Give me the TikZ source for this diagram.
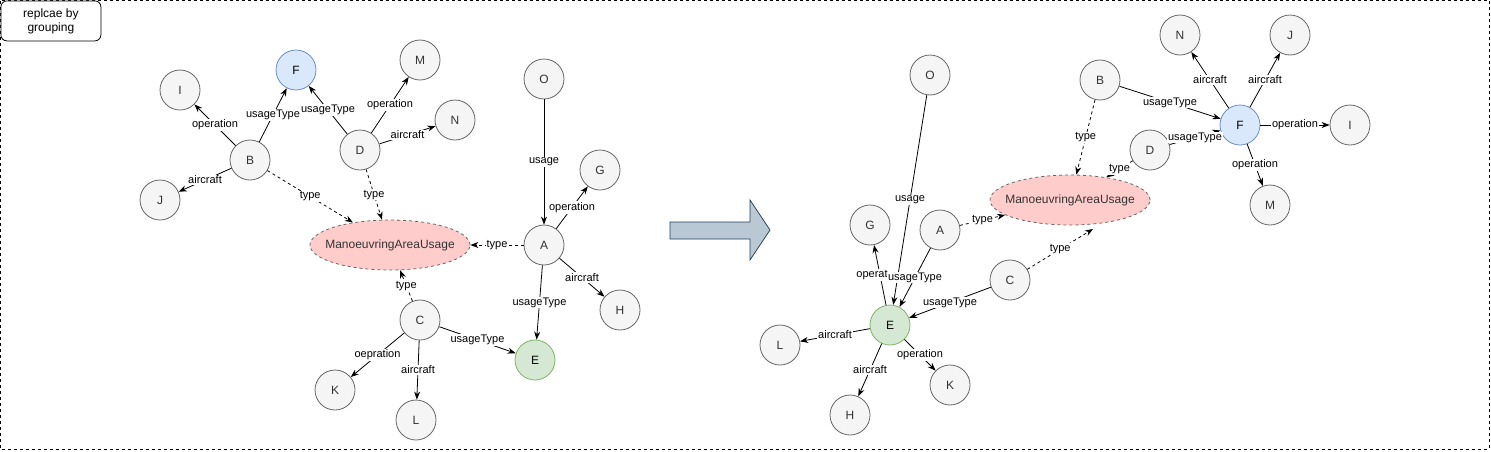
\documentclass[tikz,border=0pt]{standalone}
\usepackage{fontspec}
\setmainfont{Liberation Sans}
\usepackage{tikz}
\usepackage{xcolor}
\usetikzlibrary{shapes.geometric, arrows.meta, positioning, calc}
\definecolor{entfill}{HTML}{F5F5F5}
\definecolor{entline}{HTML}{666666}
\definecolor{enttext}{HTML}{333333}
\definecolor{bluefill}{HTML}{DAE8FC}
\definecolor{blueline}{HTML}{6C8EBF}
\definecolor{greenfill}{HTML}{D5E8D4}
\definecolor{greenline}{HTML}{82B366}
\definecolor{pinkfill}{HTML}{FFCCCC}
\definecolor{bigfill}{HTML}{BAC8D3}
\definecolor{bigline}{HTML}{23445D}

\begin{document}
\begin{tikzpicture}[x=1pt,y=-1pt,
  ent/.style={circle, draw=entline, fill=entfill, text=enttext, minimum size=40pt, inner sep=0pt, line width=0.8pt, font=\fontsize{12}{14}\selectfont},
  entF/.style={ent, draw=blueline, fill=bluefill, text=black},
  entE/.style={ent, draw=greenline, fill=greenfill, text=black},
  cls/.style={ellipse, draw=entline, dash pattern=on 3pt off 3pt, fill=pinkfill, text=enttext, minimum width=160pt, minimum height=50pt, inner xsep=-10pt, inner ysep=0pt, line width=0.8pt, font=\fontsize{12}{14}\selectfont},
  rel/.style={-{Stealth[length=8pt,width=6pt,inset=2.5pt]}, line width=0.8pt},
  typ/.style={rel, dash pattern=on 3pt off 3pt},
  lbl/.style={fill=white, inner sep=1pt, font=\fontsize{11}{13}\selectfont}
]
\useasboundingbox (0,0) rectangle (1491,451);
\draw[dash pattern=on 3pt off 3pt, line width=0.8pt] (0.5,0.5) rectangle (1489,449);
\node[draw, rounded corners=6pt, fill=white, line width=0.8pt, minimum width=100pt, minimum height=40pt, align=center, anchor=north west, font=\fontsize{12}{14}\selectfont] (title) at (0.5,0.5) {replcae by\\grouping};

% before
\node[entF] (lF) at (296,70) {F};
\node[ent] (lI) at (180,90) {I};
\node[ent] (lB) at (250,160) {B};
\node[ent] (lJ) at (160,200) {J};
\node[ent] (lM) at (420,60) {M};
\node[ent] (lN) at (455,120) {N};
\node[ent] (lD) at (360,150) {D};
\node[ent] (lO) at (544,79) {O};
\node[ent] (lG) at (600,170) {G};
\node[ent] (lA) at (544,245) {A};
\node[ent] (lH) at (620,310) {H};
\node[cls] (lMAU) at (390,245) {ManoeuvringAreaUsage};
\node[ent] (lC) at (420,320) {C};
\node[entE] (lE) at (535,360) {E};
\node[ent] (lK) at (335,390) {K};
\node[ent] (lL) at (416,420) {L};

\draw[rel] (lB) -- node[lbl] {operation} (lI);
\draw[rel] (lB) -- node[lbl] {usageType} (lF);
\draw[rel] (lB) -- node[lbl] {aircraft} (lJ);
\draw[typ] (lB) -- node[lbl] {type} (lMAU);
\draw[rel] (lD) -- node[lbl] {usageType} (lF);
\draw[rel] (lD) -- node[lbl] {operation} (lM);
\draw[rel] (lD) -- node[lbl] {aircraft} (lN);
\draw[typ] (lD) -- node[lbl] {type} (lMAU);
\draw[rel] (lO) -- node[lbl] {usage} (lA);
\draw[rel] (lA) -- node[lbl] {operation} (lG);
\draw[typ] (lA) -- node[lbl] {type} (lMAU);
\draw[rel] (lA) -- node[lbl] {aircraft} (lH);
\draw[rel] (lA) -- node[lbl] {usageType} (lE);
\draw[typ] (lC) -- node[lbl] {type} (lMAU);
\draw[rel] (lC) -- node[lbl] {usageType} (lE);
\draw[rel] (lC) -- node[lbl] {oepration} (lK);
\draw[rel] (lC) -- node[lbl] {aircraft} (lL);

% big arrow
\draw[draw=bigline, fill=bigfill, line width=0.8pt] (670,222) -- (750,222) -- (750,200) -- (770,230) -- (750,260) -- (750,239) -- (670,239) -- cycle;

% after
\node[ent] (rO) at (930,75) {O};
\node[ent] (rG) at (870,225) {G};
\node[ent] (rA) at (940,230) {A};
\node[entE] (rE) at (890,325) {E};
\node[ent] (rC) at (1010,280) {C};
\node[ent] (rL) at (780,345) {L};
\node[ent] (rH) at (850,415) {H};
\node[ent] (rK) at (950,385) {K};
\node[cls] (rMAU) at (1070,200) {ManoeuvringAreaUsage};
\node[ent] (rB) at (1100,80) {B};
\node[ent] (rD) at (1150,150) {D};
\node[ent] (rN) at (1180,35) {N};
\node[ent] (rJ) at (1290,35) {J};
\node[entF] (rF) at (1240,125) {F};
\node[ent] (rI) at (1350,125) {I};
\node[ent] (rM) at (1270,205) {M};
\coordinate (ctip) at (1093,229);

\draw[rel] (rO) -- node[lbl] {usage} (rE);
\draw[rel] (rE) -- node[lbl, xshift=-8pt, inner xsep=0pt] {operat} (rG);
\draw[rel] (rA) -- node[lbl] {usageType} (rE);
\draw[rel] (rC) -- node[lbl] {usageType} (rE);
\draw[rel] (rE) -- node[lbl] {aircraft} (rL);
\draw[rel] (rE) -- node[lbl] {aircraft} (rH);
\draw[rel] (rE) -- node[lbl] {operation} (rK);
\draw[typ] (rA) -- node[lbl] {type} (rMAU);
\draw[typ] (rC) -- node[lbl] {type} (ctip);
\draw[typ] (rB) -- node[lbl] {type} (rMAU);
\draw[typ] (rD) -- node[lbl] {type} (rMAU);
\draw[rel] (rB) -- node[lbl] {usageType} (rF);
\draw[rel] (rD) -- node[lbl] {usageType} (rF);
\draw[rel] (rF) -- node[lbl] {aircraft} (rN);
\draw[rel] (rF) -- node[lbl] {aircraft} (rJ);
\draw[rel] (rF) -- node[lbl] {operation} (rI);
\draw[rel] (rF) -- node[lbl] {operation} (rM);
\end{tikzpicture}
\end{document}
